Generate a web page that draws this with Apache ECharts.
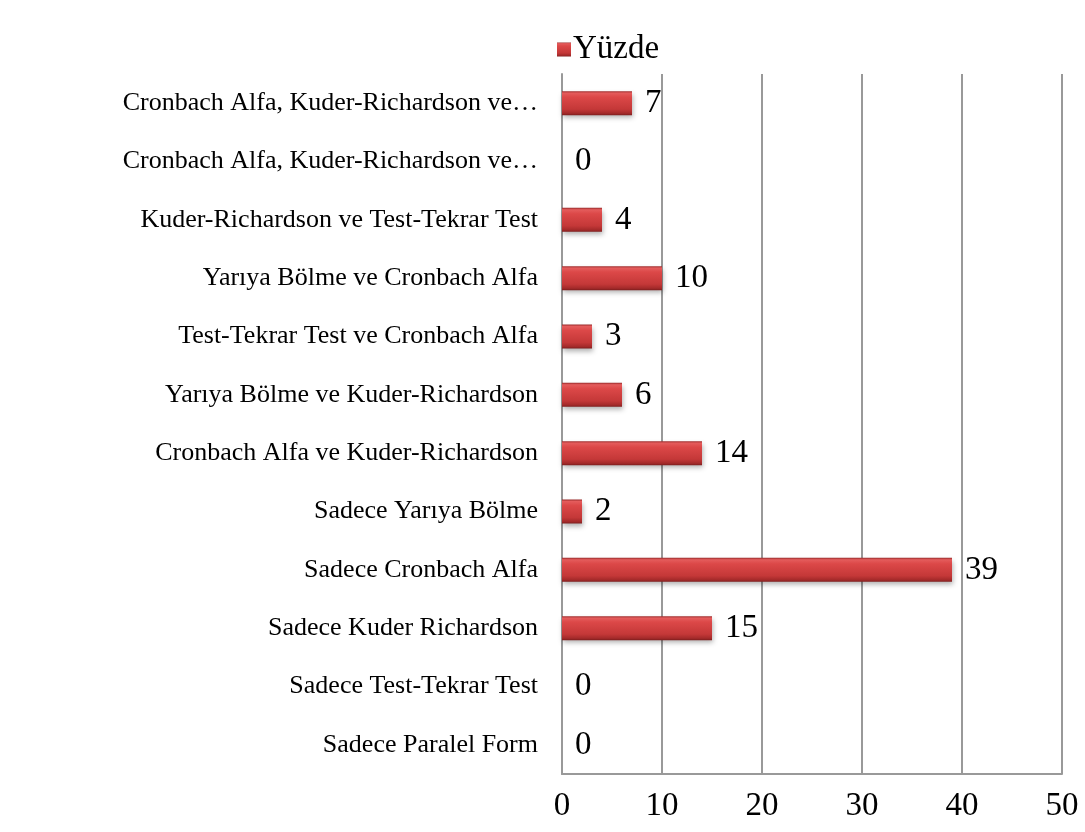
<!DOCTYPE html>
<html>
<head>
<meta charset="utf-8">
<script src="https://cdn.jsdelivr.net/npm/echarts@6/dist/echarts.min.js"></script>
<style>
  html, body { margin: 0; padding: 0; background: #fff; }
  #chart { width: 1085px; height: 832px; }
</style>
</head>
<body>
<div id="chart"></div>
<script>
// categories from bottom to top
var categories = [
  'Sadece Paralel Form',
  'Sadece Test-Tekrar Test',
  'Sadece Kuder Richardson',
  'Sadece Cronbach Alfa',
  'Sadece Yarıya Bölme',
  'Cronbach Alfa ve Kuder-Richardson',
  'Yarıya Bölme ve Kuder-Richardson',
  'Test-Tekrar Test ve Cronbach Alfa',
  'Yarıya Bölme ve Cronbach Alfa',
  'Kuder-Richardson ve Test-Tekrar Test',
  'Cronbach Alfa, Kuder-Richardson ve Test-Tekrar Test',
  'Cronbach Alfa, Kuder-Richardson ve Yarıya Bölme'
];
var yuzde = [0, 0, 15, 39, 2, 14, 6, 3, 10, 4, 0, 7];
var xTicks = [0, 10, 20, 30, 40, 50];

var serif = '"Liberation Serif", "Times New Roman", serif';

// bevelled red fill
var barFill = new echarts.graphic.LinearGradient(0, 0, 0, 1, [
  { offset: 0, color: '#9a2a2a' },
  { offset: 0.08, color: '#e45c5c' },
  { offset: 0.25, color: '#dc4848' },
  { offset: 0.75, color: '#c43838' },
  { offset: 0.92, color: '#a42a2a' },
  { offset: 1, color: '#7e1e1e' }
]);

const myChart = echarts.init(document.getElementById('chart'));

let option = {
  animation: false,
  grid: {
    left: 562,
    right: 23,
    top: 74,
    bottom: 58
  },
  legend: {
    data: ['Yüzde'],
    top: 28,
    left: 552,
    icon: 'rect',
    itemWidth: 14,
    itemHeight: 14,
    itemGap: 0,
    textStyle: {
      fontFamily: serif,
      fontSize: 33,
      color: '#000',
      padding: [0, 0, 0, -3]
    }
  },
  xAxis: {
    type: 'value',
    min: xTicks[0],
    max: xTicks[xTicks.length - 1],
    interval: 10,
    axisLine: { show: true, lineStyle: { color: '#999', width: 2 } },
    axisTick: { show: false },
    splitLine: { show: true, lineStyle: { color: '#999', width: 2 } },
    axisLabel: {
      fontFamily: serif,
      fontSize: 33,
      color: '#000',
      margin: 16
    }
  },
  yAxis: {
    type: 'category',
    data: categories,
    axisLine: { show: true, lineStyle: { color: '#999', width: 2 } },
    axisTick: { show: false },
    axisLabel: {
      fontFamily: serif,
      fontSize: 26,
      color: '#000',
      margin: 24,
      width: 418,
      overflow: 'truncate',
      ellipsis: '…'
    }
  },
  series: [{
    name: 'Yüzde',
    type: 'bar',
    data: yuzde,
    barWidth: 24,
    itemStyle: {
      color: barFill,
      borderWidth: 0,
      shadowBlur: 5,
      shadowOffsetX: 1,
      shadowOffsetY: 3,
      shadowColor: 'rgba(0,0,0,0.3)'
    },
    label: {
      show: true,
      position: 'right',
      distance: 13,
      fontFamily: serif,
      fontSize: 33,
      color: '#000'
    }
  }]
};

myChart.setOption(option);
</script>
</body>
</html>
